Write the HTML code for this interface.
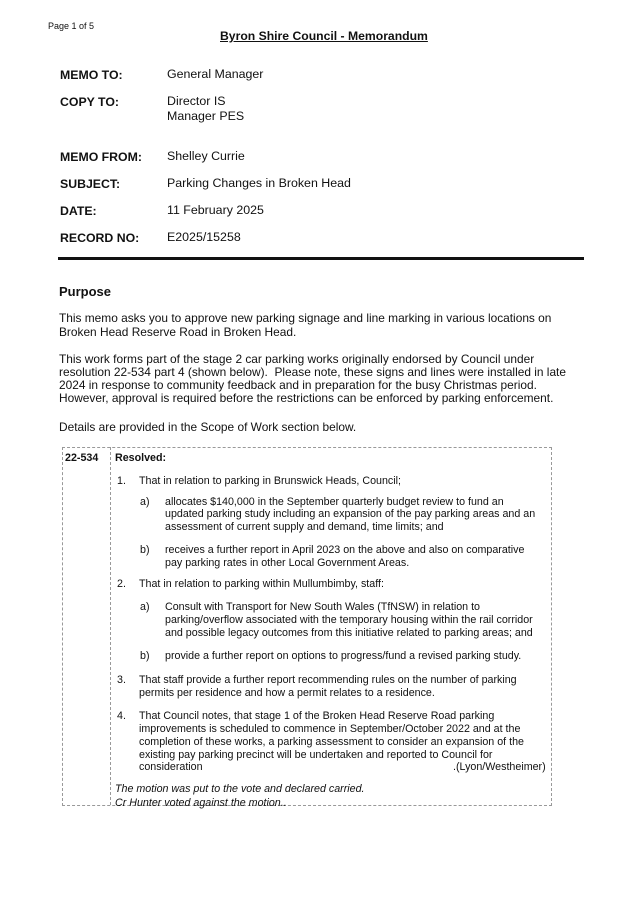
<!DOCTYPE html>
<html><head><meta charset="utf-8"><style>
body{margin:0;background:#fff;}
#p{position:relative;width:637px;height:901px;overflow:hidden;font-family:"Liberation Sans",Arial,sans-serif;color:#111;}
#p div{position:absolute;white-space:nowrap;}
.l{font-size:12.3px;font-weight:bold;line-height:16px;}
.v{font-size:12.4px;line-height:16px;}
.b{font-size:11.9px;line-height:14px;}
.t{font-size:10.7px;line-height:13px;}
</style></head><body><div id="p">
<div style="left:48px;top:21px;font-size:9px;">Page 1 of 5</div>
<div style="left:220px;top:29px;font-size:12.2px;font-weight:bold;text-decoration:underline;">Byron Shire Council - Memorandum</div>

<div class="l" style="left:60px;top:67px">MEMO TO:</div><div class="v" style="left:167px;top:66px">General Manager</div>
<div class="l" style="left:60px;top:94px">COPY TO:</div><div class="v" style="left:167px;top:93px">Director IS</div>
<div class="v" style="left:167px;top:108px">Manager PES</div>
<div class="l" style="left:60px;top:149px">MEMO FROM:</div><div class="v" style="left:167px;top:148px">Shelley Currie</div>
<div class="l" style="left:60px;top:176px">SUBJECT:</div><div class="v" style="left:167px;top:175px">Parking Changes in Broken Head</div>
<div class="l" style="left:60px;top:203px">DATE:</div><div class="v" style="left:167px;top:202px">11 February 2025</div>
<div class="l" style="left:60px;top:230px">RECORD NO:</div><div class="v" style="left:167px;top:229px">E2025/15258</div>
<div style="left:58px;top:257px;width:526px;height:3px;background:#111;"></div>

<div style="left:59px;top:284px;font-size:13px;font-weight:bold;">Purpose</div>
<div class="b" style="left:59px;top:311px">This memo asks you to approve new parking signage and line marking in various locations on</div>
<div class="b" style="left:59px;top:325px">Broken Head Reserve Road in Broken Head.</div>
<div class="b" style="left:59px;top:352px">This work forms part of the stage 2 car parking works originally endorsed by Council under</div>
<div class="b" style="left:59px;top:365px">resolution 22-534 part 4 (shown below).&nbsp; Please note, these signs and lines were installed in late</div>
<div class="b" style="left:59px;top:378px">2024 in response to community feedback and in preparation for the busy Christmas period.</div>
<div class="b" style="left:59px;top:391px">However, approval is required before the restrictions can be enforced by parking enforcement.</div>
<div class="b" style="left:59px;top:420px">Details are provided in the Scope of Work section below.</div>

<div style="left:62px;top:447px;width:488px;height:357px;border:1px dashed #999;"></div>
<div style="left:110px;top:447px;width:0;height:358px;border-left:1px dashed #999;"></div>
<div class="t" style="left:65px;top:452px;font-weight:bold">22-534</div>
<div class="t" style="left:115px;top:452px;font-weight:bold">Resolved:</div>
<div class="t" style="left:117px;top:475px">1.</div><div class="t" style="left:139px;top:475px">That in relation to parking in Brunswick Heads, Council;</div>
<div class="t" style="left:140px;top:496px">a)</div><div class="t" style="left:165px;top:496px">allocates $140,000 in the September quarterly budget review to fund an</div>
<div class="t" style="left:165px;top:508px">updated parking study including an expansion of the pay parking areas and an</div>
<div class="t" style="left:165px;top:521px">assessment of current supply and demand, time limits; and</div>
<div class="t" style="left:140px;top:544px">b)</div><div class="t" style="left:165px;top:544px">receives a further report in April 2023 on the above and also on comparative</div>
<div class="t" style="left:165px;top:557px">pay parking rates in other Local Government Areas.</div>
<div class="t" style="left:117px;top:578px">2.</div><div class="t" style="left:139px;top:578px">That in relation to parking within Mullumbimby, staff:</div>
<div class="t" style="left:140px;top:601px">a)</div><div class="t" style="left:165px;top:601px">Consult with Transport for New South Wales (TfNSW) in relation to</div>
<div class="t" style="left:165px;top:614px">parking/overflow associated with the temporary housing within the rail corridor</div>
<div class="t" style="left:165px;top:627px">and possible legacy outcomes from this initiative related to parking areas; and</div>
<div class="t" style="left:140px;top:650px">b)</div><div class="t" style="left:165px;top:650px">provide a further report on options to progress/fund a revised parking study.</div>
<div class="t" style="left:117px;top:674px">3.</div><div class="t" style="left:139px;top:674px">That staff provide a further report recommending rules on the number of parking</div>
<div class="t" style="left:139px;top:687px">permits per residence and how a permit relates to a residence.</div>
<div class="t" style="left:117px;top:710px">4.</div><div class="t" style="left:139px;top:710px">That Council notes, that stage 1 of the Broken Head Reserve Road parking</div>
<div class="t" style="left:139px;top:723px">improvements is scheduled to commence in September/October 2022 and at the</div>
<div class="t" style="left:139px;top:736px">completion of these works, a parking assessment to consider an expansion of the</div>
<div class="t" style="left:139px;top:749px">existing pay parking precinct will be undertaken and reported to Council for</div>
<div class="t" style="left:139px;top:761px">consideration</div><div class="t" style="left:453px;top:761px">.(Lyon/Westheimer)</div>
<div class="t" style="left:115px;top:783px;font-style:italic">The motion was put to the vote and declared carried.</div>
<div class="t" style="left:115px;top:797px;font-style:italic">Cr Hunter voted against the motion..</div>
</div></body></html>
